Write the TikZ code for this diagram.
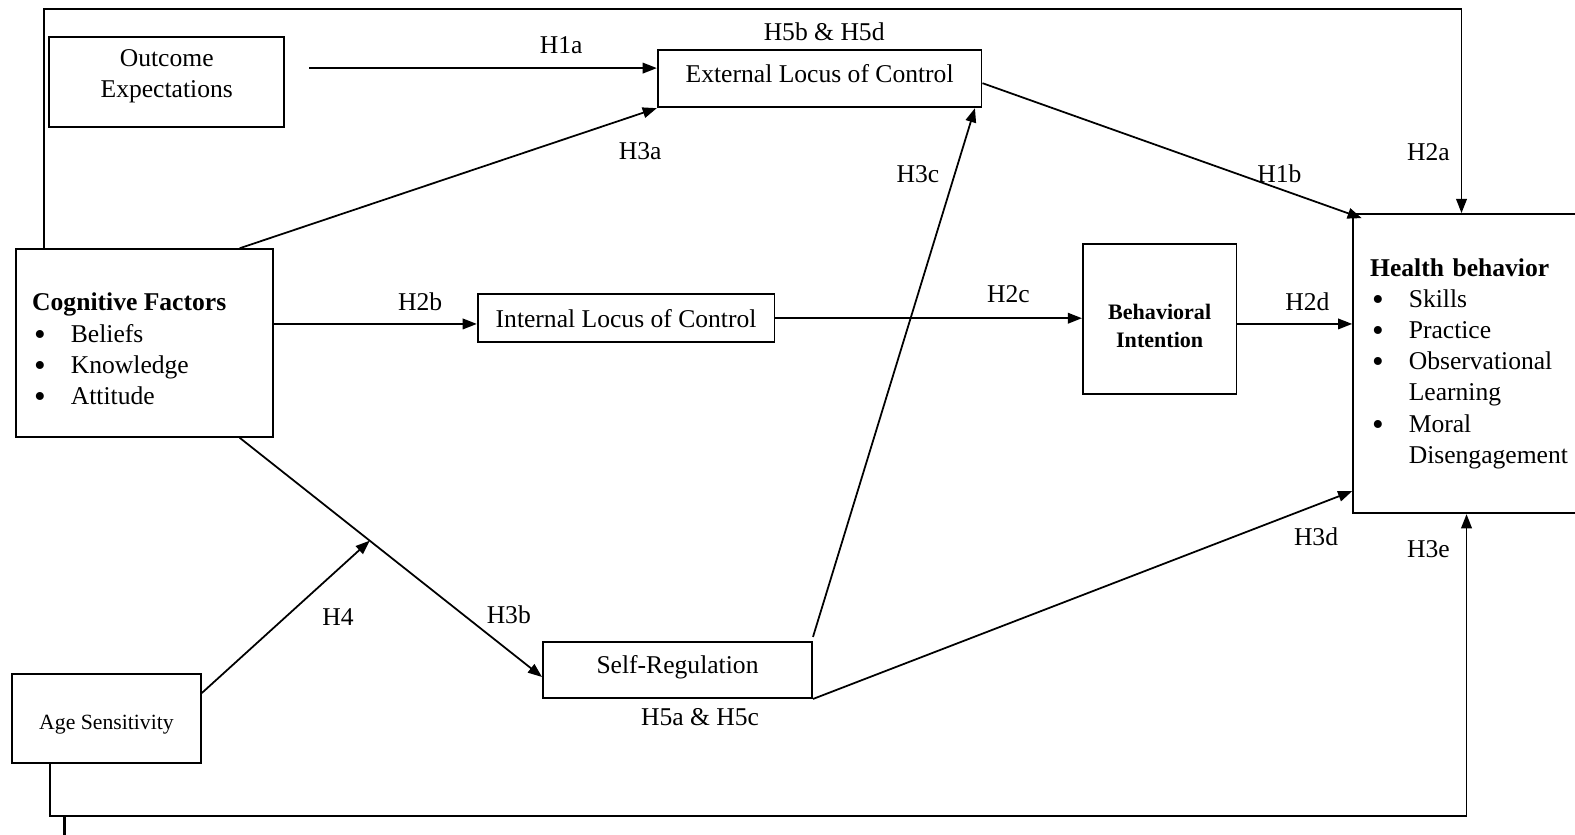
\documentclass[tikz,border=0pt]{standalone}
\usepackage{fontspec}
\setmainfont{Liberation Serif}
\usetikzlibrary{positioning,arrows.meta}
\tikzset{
	factor/.style={draw, inner sep=0pt},
}
\newcommand{\hypedge}[4]{\draw[->] (#1) -- node[#2] {#3} (#4);}
\newcommand{\lift}[2]{\raisebox{#1}[\height][\depth]{#2}}
\newcommand{\bitem}[1]{\makebox[0.77cm][l]{\hspace{0.04cm}\raisebox{-0.12em}[0pt][0pt]{\scalebox{1.3}{\textbullet}}}#1}

\begin{document}
\begin{tikzpicture}[x=0.02cm,y=-0.02cm,line width=1pt,>={Triangle[length=8pt,width=6pt]},font=\fontsize{14.5}{17.7}\selectfont]
    \useasboundingbox (0,0) rectangle (1568,831);
    % boxes
    \node[factor,minimum width=4.68cm,minimum height=1.79cm] (outcome) at (166,81.7) {\lift{0.12cm}{\begin{tabular}{@{}c@{}}Outcome\\Expectations\end{tabular}}};
    \node[factor,minimum width=6.45cm,minimum height=1.14cm] (extloc) at (816,78.3) {\lift{0.11cm}{External Locus of Control}};
    \node[factor,minimum width=5.13cm,minimum height=3.74cm] (cogn) at (143.8,341.5)
        {\lift{-0.12cm}{\parbox{4.47cm}{\textbf{Cognitive Factors}\\ \bitem{Beliefs}\\ \bitem{Knowledge}\\ \bitem{Attitude}}}};
    \node[factor,minimum width=5.91cm,minimum height=0.95cm] (intloc) at (623.3,316.8) {Internal Locus of Control};
    \node[factor,minimum width=3.06cm,minimum height=2.98cm,font=\fontsize{12.5}{15.9}\selectfont\bfseries] (behint) at (1154.5,317.5)
        {\lift{-0.18cm}{\begin{tabular}{@{}c@{}}Behavioral\\Intention\end{tabular}}};
    \node[factor,minimum width=5.06cm,minimum height=5.96cm,text width=4.38cm,align=left] (health) at (1473.5,362)
        {\textbf{Health behavior}\\ \bitem{Skills}\\ \bitem{Practice}\\ \bitem{Observational}\\ \hspace*{0.77cm}Learning\\ \bitem{Moral}\\ \hspace*{0.77cm}Disengagement};
    \node[factor,minimum width=5.36cm,minimum height=1.12cm] (selfreg) at (674.5,667) {\lift{0.06cm}{Self-Regulation}};
    \node[factor,minimum width=3.76cm,minimum height=1.77cm,font=\fontsize{12.3}{15}\selectfont] (agesens) at (106,715) {\lift{-0.12cm}{Age Sensitivity}};

    \node (h5bd) at ([xshift=0.09cm,yshift=0.34cm]extloc.north) {H5b \& H5d};
    \node (h5ac) at ([xshift=0.45cm,yshift=-0.37cm]selfreg.south) {H5a \& H5c};

    % top and bottom loops
    \coordinate (toprail) at (1455,9.3);
    \draw[->] ([xshift=0.58cm]cogn.north west) |- (toprail) -- node[pos=0.7,xshift=-0.66cm] {H2a} (toprail |- health.north);
    \coordinate (botrail) at (1460,812);
    \draw[->] ([xshift=0.78cm]agesens.south west) |- (botrail) -- node[pos=0.885,xshift=-0.76cm] {H3e} (botrail |- health.south);

    % hypotheses
    \hypedge{[xshift=0.48cm,yshift=0.28cm]outcome.east}{pos=0.725,yshift=0.46cm}{H1a}{[yshift=0.21cm]extloc.west}
    \hypedge{[xshift=4.48cm]cogn.north west}{pos=0.96,yshift=-0.75cm}{H3a}{extloc.south west}
    \hypedge{[yshift=-0.09cm]extloc.east}{pos=0.783,yshift=0.31cm}{H1b}{[xshift=0.19cm,yshift=-0.1cm]health.north west}
    \hypedge{[yshift=0.38cm]cogn.east}{pos=0.72,yshift=0.44cm}{H2b}{[yshift=0.38cm]cogn.east -| intloc.west}
    \hypedge{intloc.east}{pos=0.76,yshift=0.48cm}{H2c}{intloc.east -| behint.west}
    \hypedge{[yshift=-0.1cm]behint.east}{pos=0.61,yshift=0.44cm}{H2d}{[yshift=-0.1cm]behint.east -| health.west}
    \draw[->] ([xshift=4.48cm]cogn.south west) -- coordinate[pos=0.43] (agemod) node[pos=0.89,yshift=0.71cm] {H3b} ([yshift=-0.14cm]selfreg.west);
    \hypedge{[yshift=0.5cm]agesens.east}{pos=0.5,xshift=1.04cm}{H4}{agemod}
    \hypedge{[yshift=0.08cm]selfreg.north east}{pos=0.875,xshift=-0.73cm}{H3c}{[xshift=-0.15cm]extloc.south east}
    \hypedge{selfreg.south east}{pos=0.933,yshift=-0.64cm}{H3d}{[yshift=-2.54cm]health.west}

    \coordinate (stub) at (64,813);
    \draw[line width=1.6pt] (stub) -- ++(0,18);
\end{tikzpicture}
\end{document}
